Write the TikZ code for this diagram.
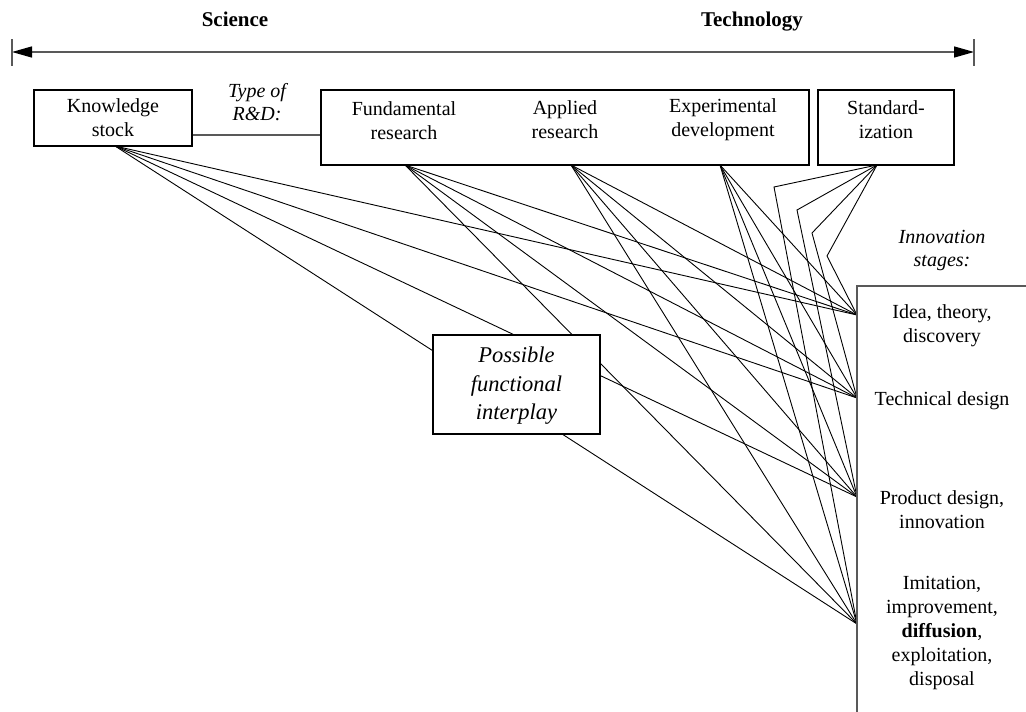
\documentclass[tikz,border=0pt]{standalone}
\usepackage{fontspec}
\setmainfont{Liberation Serif}
\usetikzlibrary{arrows.meta}
\begin{document}
\begin{tikzpicture}[x=1pt,y=-1pt,
  box/.style={draw=black, line width=1.2pt, fill=white, inner sep=0pt, align=center},
  txt/.style={inner sep=0pt, align=center, font=\fontsize{20}{24}\selectfont},
  itxt/.style={txt, font=\fontsize{20}{23}\selectfont\itshape},
  conn/.style={draw=black, line width=0.9pt},
  ruler/.style={draw=black!65, line width=1.4pt},
  tip/.style={Triangle[length=20pt,width=11pt,color=black]}
]
\useasboundingbox (0,0) rectangle (1026,712);

% top axis
\node[txt, font=\fontsize{21}{24}\selectfont\bfseries, anchor=base] (sci) at (235,26) {Science};
\node[txt, font=\fontsize{21}{24}\selectfont\bfseries, anchor=base] (tec) at (752,26) {Technology};
\coordinate (al) at (12,52);
\coordinate (ar) at (974,52);
\coordinate (alt) at (12,39); \coordinate (alb) at (12,66);
\coordinate (art) at (974,39); \coordinate (arb) at (974,66);
\draw[ruler, {Triangle[length=20pt,width=11pt,color=black]}-{Triangle[length=20pt,width=11pt,color=black]}] (al) -- (ar);
\draw[ruler] (alt) -- (alb);
\draw[ruler] (art) -- (arb);

% anchor points
\coordinate (ks) at (115,146);
\coordinate (fr) at (405,165);
\coordinate (ar2) at (571,165);
\coordinate (ed) at (720,165);
\coordinate (st) at (877,165);
\coordinate (s1) at (857,315);
\coordinate (s2) at (857,398);
\coordinate (s3) at (857,497);
\coordinate (s4) at (857,624);
\coordinate (k1) at (827,256);
\coordinate (k2) at (812,233);
\coordinate (k3) at (797,210);
\coordinate (k4) at (774,187);

% connectors
\foreach \s in {ks,fr,ar2,ed}{
  \foreach \t in {s1,s2,s3,s4}{
    \draw[conn] (\s) -- (\t);
  }
}
\draw[conn] (st) -- (k1) -- (s1);
\draw[conn] (st) -- (k2) -- (s2);
\draw[conn] (st) -- (k3) -- (s3);
\draw[conn] (st) -- (k4) -- (s4);

% boxes
\node[box, minimum width=158pt, minimum height=56pt] (kb) at (113,118) {};
\node[txt] (kbt) at (113,118) {Knowledge\\stock};
\node[box, minimum width=488pt, minimum height=75pt] (rd) at (565,127.5) {};
\node[txt] (frt) at (404,121) {Fundamental\\research};
\node[txt] (art2) at (565,120) {Applied\\research};
\node[txt] (edt) at (723,120) {Experimental\\development};
\node[box, minimum width=136pt, minimum height=75pt] (sb) at (886,127.5) {};
\node[txt] (sbt) at (886,120) {Standard-\\ization};

\node[itxt] (tr) at (257,102) {Type of\\R\&D:};
\coordinate (tl) at (250,135);
\draw[ruler, line width=1.2pt] (kb.east |- tl) -- (rd.west |- tl);

\node[box, minimum width=167pt, minimum height=99pt] (pf) at (516.5,384.5) {};
\node[txt, font=\fontsize{22.5}{28.5}\selectfont\itshape] (pft) at (516.5,386) {Possible\\functional\\interplay};

% innovation stages
\node[itxt] (ist) at (942,251) {Innovation\\stages:};
\coordinate (sbr) at (1030,286);
\coordinate (sbl) at (857,286);
\coordinate (sbb) at (857,716);
\draw[ruler, line width=1.3pt] (sbr) -- (sbl) -- (sbb);
\node[txt] (t1) at (942,326) {Idea, theory,\\discovery};
\node[txt] (t2) at (942,401) {Technical design};
\node[txt] (t3) at (942,510) {Product design,\\innovation};
\node[txt] (t4) at (942,633) {Imitation,\\improvement,\\\textbf{diffusion},\\exploitation,\\disposal};
\end{tikzpicture}
\end{document}
